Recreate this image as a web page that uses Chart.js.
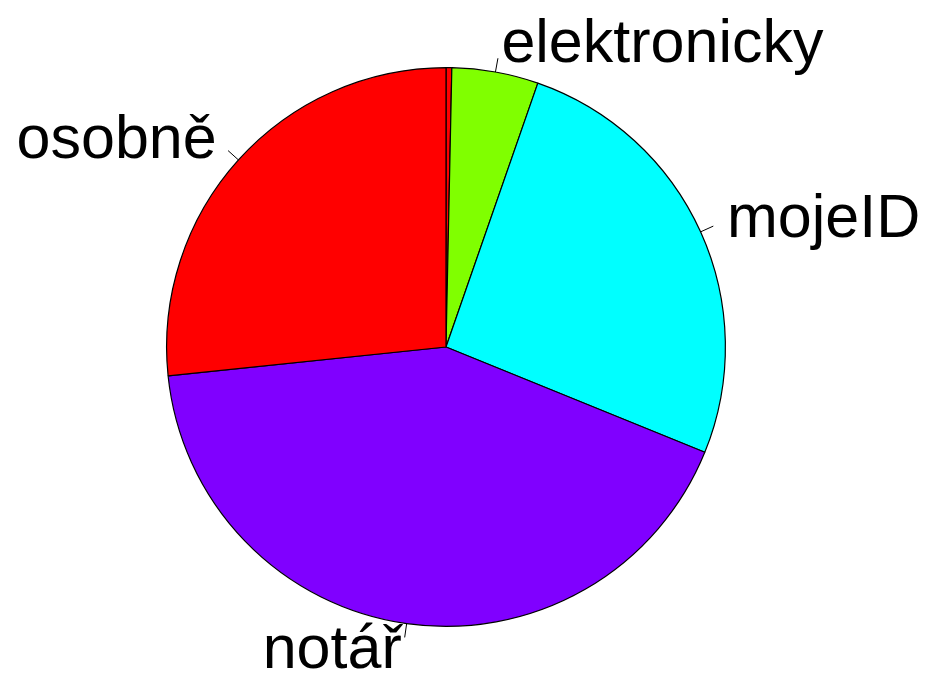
<!DOCTYPE html>
<html>
<head>
<meta charset="utf-8">
<script src="https://cdn.jsdelivr.net/npm/chart.js@4"></script>
<style>
html,body{margin:0;padding:0;background:#fff;}
#wrap{width:925px;height:677px;position:relative;}
</style>
</head>
<body>
<div id="wrap"><canvas id="c" width="925" height="677"></canvas></div>
<script>
const categories = ['', 'elektronicky', 'mojeID', 'notář', 'osobně'];
const values = [1.2, 18, 93, 152, 96];
const sliceColors = ['#FF0000', '#80FF00', '#00FFFF', '#8000FF', '#FF0000'];

const FONT_SIZE = 61;
const labelPlugin = {
  id: 'rpieLabels',
  afterDatasetsDraw(chart) {
    const ctx = chart.ctx;
    const meta = chart.getDatasetMeta(0);
    ctx.save();
    ctx.font = FONT_SIZE + 'px "Liberation Sans", Arial, sans-serif';
    ctx.fillStyle = '#000';
    ctx.strokeStyle = '#000';
    ctx.lineWidth = 1;
    meta.data.forEach((arc, i) => {
      const lab = chart.data.labels[i];
      if (!lab) return;
      const p = arc.getProps(['x','y','startAngle','endAngle','outerRadius'], true);
      const mid = (p.startAngle + p.endAngle) / 2;
      const r = p.outerRadius;
      const c = Math.cos(mid), s = Math.sin(mid);
      ctx.beginPath();
      ctx.moveTo(p.x + c * r, p.y + s * r);
      ctx.lineTo(p.x + c * r * 1.05, p.y + s * r * 1.05);
      ctx.stroke();
      const tx = p.x + c * r * 1.1;
      const ty = p.y + s * r * 1.1;
      ctx.textAlign = c >= 0 ? 'left' : 'right';
      ctx.textBaseline = 'alphabetic';
      ctx.fillText(lab, tx + (c >= 0 ? 1 : -1), ty + FONT_SIZE * 0.28);
    });
    ctx.restore();
  }
};

new Chart(document.getElementById('c'), {
  type: 'pie',
  data: {
    labels: categories,
    datasets: [{
      data: values,
      backgroundColor: sliceColors,
      borderColor: '#000',
      borderWidth: 1.2,
      hoverOffset: 0
    }]
  },
  options: {
    responsive: false,
    animation: false,
    events: [],
    rotation: 0,
    layout: { padding: { left: 166, right: 199, top: 67, bottom: 50 } },
    plugins: { legend: { display: false }, tooltip: { enabled: false } }
  },
  plugins: [labelPlugin]
});
</script>
</body>
</html>
